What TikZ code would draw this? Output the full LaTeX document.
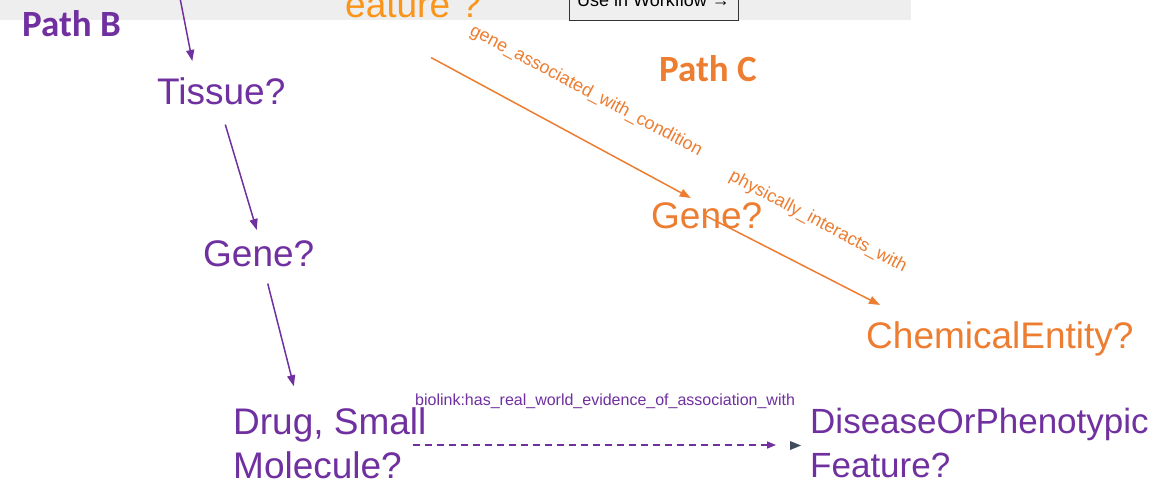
\documentclass[tikz,border=0pt]{standalone}
\usepackage{fontspec}
\setmainfont{Liberation Sans}
\newfontfamily\calib{Carlito}
\usetikzlibrary{arrows.meta,calc}
\definecolor{purp}{HTML}{7030A0}
\definecolor{orng}{HTML}{ED7D31}
\definecolor{yorng}{HTML}{FA9519}
\definecolor{band}{HTML}{EEEEEE}
\definecolor{btn}{HTML}{EFEFEF}
\definecolor{btnline}{HTML}{333333}
\definecolor{tri}{HTML}{3E4C5E}
\begin{document}
\begin{tikzpicture}[x=1pt,y=-1pt,
  big/.style={font=\fontsize{37}{44}\selectfont, inner sep=0pt, anchor=base west},
  bigtwo/.style={font=\fontsize{37}{44}\selectfont, inner sep=0pt, anchor=west, align=left},
  pathlbl/.style={font=\calib\bfseries\fontsize{37}{40}\selectfont, inner sep=0pt, anchor=base west},
  lbl/.style={font=\fontsize{18}{20}\selectfont, inner sep=0pt},
  smlbl/.style={font=\fontsize{16}{18}\selectfont, inner sep=0pt},
  btnlbl/.style={font=\fontsize{18}{20}\selectfont, inner sep=0pt},
  arr/.style={-{Triangle[length=11pt,width=8pt]}, line width=1.5pt},
  dsh/.style={-{Triangle[length=9pt,width=7pt]}, line width=1.5pt, dash pattern=on 7pt off 5pt}]
\useasboundingbox (0,0) rectangle (1174,480);
\clip (0,0) rectangle (1174,480);
\fill[white] (0,0) rectangle (1174,480);
% top band and button
\fill[band] (0,0) rectangle (911,20);
\node[btnlbl, draw=btnline, line width=1pt, fill=btn, minimum width=169pt, minimum height=40pt] (button) at (653.5,0) {Use in Workflow →};
% nodes
\node[big, yorng] (feat) at (345,17) {eature ?};
\node[pathlbl, purp] (pathB) at (22,36) {Path B};
\node[pathlbl, orng] (pathC) at (659,81) {Path C};
\node[big, purp] (tissue) at (157,104) {Tissue?};
\node[big, purp] (geneB) at (203,266) {Gene?};
\node[bigtwo, purp] (drug) at (233,443) {Drug, Small\\Molecule?};
\node[bigtwo, purp, font=\fontsize{35}{44}\selectfont] (dis) at (810,443) {DiseaseOrPhenotypic\\Feature?};
\node[big, orng] (geneC) at (651,228) {Gene?};
\node[big, orng] (chem) at (866,348) {ChemicalEntity?};
% edge labels
\node[smlbl, purp, anchor=base west] (evid) at (415,405) {biolink:has\_real\_world\_evidence\_of\_association\_with};
\node[lbl, orng, rotate=-28] (gawc) at (586,91) {gene\_associated\_with\_condition};
\node[lbl, orng, rotate=-28] (pia) at (818,222) {physically\_interacts\_with};
% connectors
\coordinate (topB) at (180,-2);
\draw[arr, purp] (topB) -- ($(tissue.north)+(-29,-16)$);
\draw[arr, purp] ($(tissue.south)+(4,20)$) -- ($(geneB.north)+(-2,-10)$);
\draw[arr, purp] ($(geneB.south)+(9,17)$) -- ($(drug.north)+(-36,-21)$);
\draw[dsh, purp] ($(drug.east)+(-14,2)$) -- ($(dis.west)+(-34,2)$);
\fill[tri] ($(dis.west)+(-20,-2)$) -- ++(0,9) -- ++(11,-4.5) -- cycle;
\draw[arr, orng] ($(feat.south)+(18,40)$) -- ($(geneC.north)+(-16,-4)$);
\draw[arr, orng] ($(geneC.center)+(-2,0)$) -- ($(chem.north west)+(14,-16)$);
\end{tikzpicture}
\end{document}
